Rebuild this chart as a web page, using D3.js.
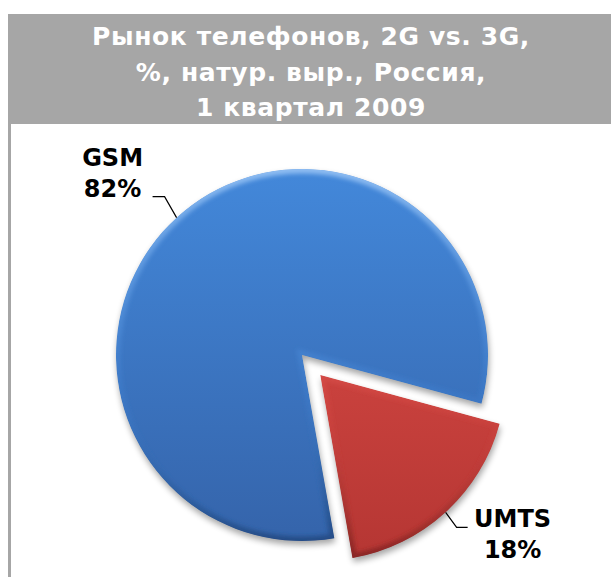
<!DOCTYPE html>
<html>
<head>
<meta charset="utf-8">
<script src="https://cdn.jsdelivr.net/npm/d3@7"></script>
<style>
  html, body { margin: 0; padding: 0; background: #fff; }
  svg { display: block; }
</style>
</head>
<body>
<div id="chart"></div>
<script>
// pie chart: 2G vs 3G phone market

const titleLines = ["Рынок телефонов, 2G vs. 3G,", "%, натур. выр., Россия,", "1 квартал 2009"];
const categories = ["GSM", "UMTS"];
const shares = [82, 18];
const exploded = ["UMTS"];

const W = 611, H = 577;
const fontFam = "'DejaVu Sans', Verdana, sans-serif";

const svg = d3.select("#chart")
  .append("svg")
  .attr("width", W)
  .attr("height", H);

const defs = svg.append("defs");

const cx = 302, cy = 355, radius = 186, explodeBy = 27;

const palette = {
  GSM: { top: "#4388da", bottom: "#3462a8", rimLight: "#8fbdf2", rimDark: "#1d4177" },
  UMTS: { top: "#de4d48", bottom: "#b33532", rimLight: "#f49c97", rimDark: "#761d1b" }
};

// gradients live in the chart group's space (origin at pie centre)
categories.forEach(c => {
  const g = defs.append("linearGradient")
    .attr("id", "fill-" + c)
    .attr("gradientUnits", "userSpaceOnUse")
    .attr("x1", 0).attr("y1", -radius).attr("x2", 0).attr("y2", radius + 20);
  g.append("stop").attr("offset", "0%").attr("stop-color", palette[c].top);
  g.append("stop").attr("offset", "100%").attr("stop-color", palette[c].bottom);

  const r = defs.append("linearGradient")
    .attr("id", "rim-" + c)
    .attr("gradientUnits", "userSpaceOnUse")
    .attr("x1", 0).attr("y1", -radius).attr("x2", 0).attr("y2", radius + 20);
  r.append("stop").attr("offset", "0%").attr("stop-color", palette[c].rimLight);
  r.append("stop").attr("offset", "55%").attr("stop-color", palette[c].top).attr("stop-opacity", 0.3);
  r.append("stop").attr("offset", "100%").attr("stop-color", palette[c].rimDark);
});

const shadow = defs.append("filter")
  .attr("id", "shadow")
  .attr("x", "-20%").attr("y", "-20%").attr("width", "140%").attr("height", "140%");
shadow.append("feGaussianBlur").attr("stdDeviation", 3);

const soft = defs.append("filter").attr("id", "soft");
soft.append("feGaussianBlur").attr("stdDeviation", 2);

// header band + left rule
svg.append("rect")
  .attr("x", 8).attr("y", 14)
  .attr("width", W - 8).attr("height", 110)
  .attr("fill", "#a6a6a6");

svg.append("rect")
  .attr("x", 8).attr("y", 124)
  .attr("width", 3).attr("height", H - 124)
  .attr("fill", "#a6a6a6");

const title = svg.append("text")
  .attr("text-anchor", "middle")
  .attr("font-family", fontFam)
  .attr("font-weight", "bold")
  .attr("font-size", "25px")
  .attr("letter-spacing", "0.6px")
  .attr("fill", "#fff");

titleLines.forEach((t, i) => {
  title.append("tspan")
    .attr("x", 311)
    .attr("y", 45 + i * 35.5)
    .text(t);
});

// pie
const start = 170 * Math.PI / 180;

const data = categories.map((c, i) => ({ name: c, value: shares[i] }));

const pie = d3.pie()
  .sort(null)
  .value(d => d.value)
  .startAngle(start)
  .endAngle(start + 2 * Math.PI);

const arc = d3.arc().innerRadius(0).outerRadius(radius);
const arcs = pie(data);

const mid = d => (d.startAngle + d.endAngle) / 2;
const offsetOf = d => {
  const k = exploded.includes(d.data.name) ? explodeBy : 0;
  return [Math.sin(mid(d)) * k, -Math.cos(mid(d)) * k];
};

const chart = svg.append("g")
  .attr("transform", `translate(${cx},${cy})`);

chart.selectAll("path.shadow")
  .data(arcs)
  .enter()
  .append("path")
  .attr("class", "shadow")
  .attr("transform", d => { const o = offsetOf(d); return `translate(${o[0] + 1},${o[1] + 4})`; })
  .attr("d", arc)
  .attr("fill", "#000")
  .attr("opacity", 0.35)
  .attr("filter", "url(#shadow)");

arcs.forEach(d => {
  const o = offsetOf(d);
  const clipId = "clip-" + d.data.name;
  defs.append("clipPath")
    .attr("id", clipId)
    .append("path")
    .attr("d", arc(d));

  const g = chart.append("g")
    .attr("class", "slice")
    .attr("transform", `translate(${o[0]},${o[1]})`)
    .append("g")
    .attr("clip-path", `url(#${clipId})`);

  g.append("path")
    .attr("d", arc(d))
    .attr("fill", `url(#fill-${d.data.name})`);

  // soft bevel along the slice edge
  g.append("path")
    .attr("d", arc(d))
    .attr("fill", "none")
    .attr("stroke", `url(#rim-${d.data.name})`)
    .attr("stroke-width", 9)
    .attr("filter", "url(#soft)");
});

// labels with leader lines
const leader = {
  GSM: { kink: [-12, -21], run: -12, dx: -40, dy: -31 },
  UMTS: { kink: [11, 15], run: 11, dx: 45, dy: 0 }
};

arcs.forEach(d => {
  const o = offsetOf(d);
  const a = mid(d);
  const s = leader[d.data.name];
  const p0 = [o[0] + Math.sin(a) * radius, o[1] - Math.cos(a) * radius];
  const p1 = [p0[0] + s.kink[0], p0[1] + s.kink[1]];
  const p2 = [p1[0] + s.run, p1[1]];

  chart.append("path")
    .attr("d", d3.line()([p0, p1, p2]))
    .attr("fill", "none")
    .attr("stroke", "#000")
    .attr("stroke-width", 1.2);

  const tx = p2[0] + s.dx;
  const ty = p2[1] + s.dy;

  const t = chart.append("text")
    .attr("text-anchor", "middle")
    .attr("font-family", fontFam)
    .attr("font-weight", "bold")
    .attr("font-size", "24px")
    .attr("fill", "#000");
  t.append("tspan").attr("x", tx).attr("y", ty).text(d.data.name);
  t.append("tspan").attr("x", tx).attr("y", ty + 31).text(d.data.value + "%");
});
</script>
</body>
</html>
